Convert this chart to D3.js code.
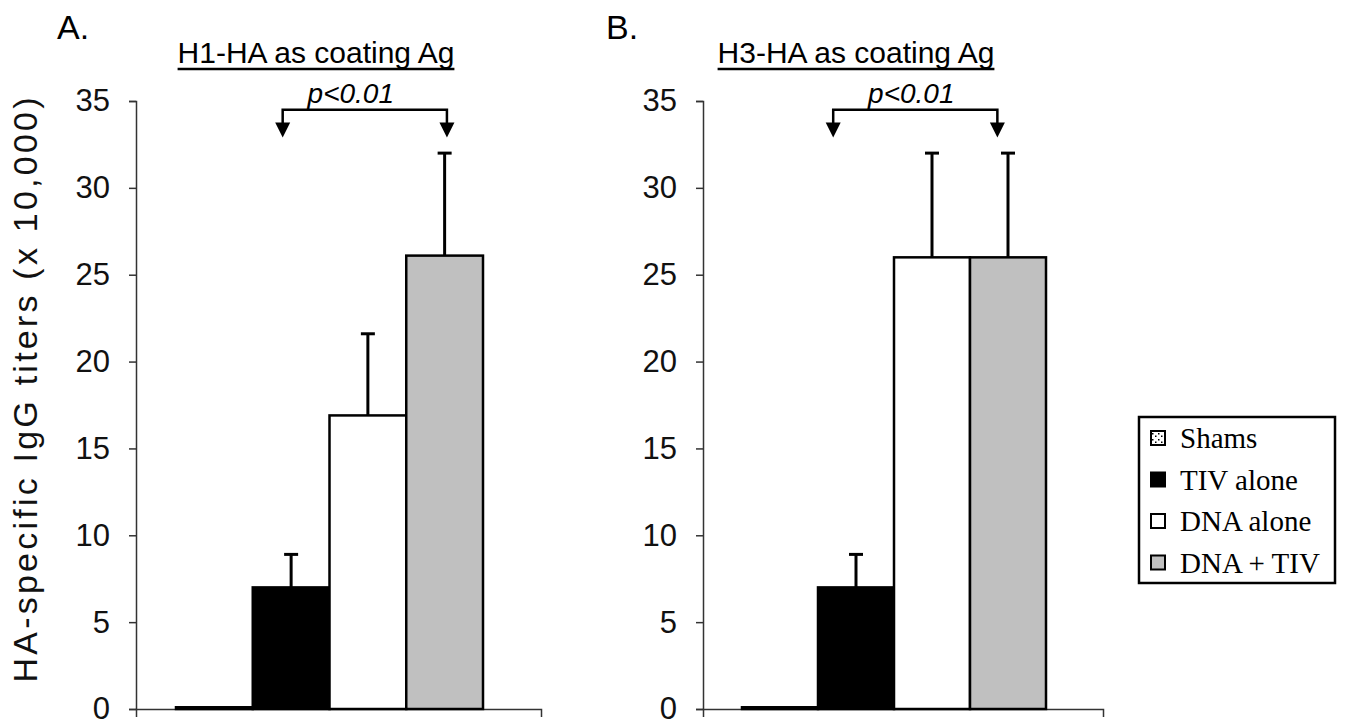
<!DOCTYPE html>
<html>
<head>
<meta charset="utf-8">
<script src="https://cdn.jsdelivr.net/npm/d3@7"></script>
<style>
  body { margin: 0; background: #fff; }
  svg { display: block; }
</style>
</head>
<body>
<script>
var width = 1347,
    height = 726;

// data (titers x 10,000)
var groups = ["Shams", "TIV alone", "DNA alone", "DNA + TIV"];
var groupFill = ["url(#dots)", "#000", "#fff", "#c0c0c0"];
var h1Mean = [0.1, 7.0, 16.9, 26.1];
var h1Upper = [0, 8.9, 21.6, 32.0];
var h3Mean = [0.1, 7.0, 26.0, 26.0];
var h3Upper = [0, 8.9, 32.0, 32.0];
var yTicks = [0, 5, 10, 15, 20, 25, 30, 35];

var panels = [
  {letter: "A.", title: "H1-HA as coating Ag", mean: h1Mean, upper: h1Upper,
   axisX: [136, 541], bars: [176, 483], letterX: 57, titleX: 316, pShift: -14,
   arrows: [[1, 0.39], [3, 0.53]]},
  {letter: "B.", title: "H3-HA as coating Ag", mean: h3Mean, upper: h3Upper,
   axisX: [703, 1103], bars: [742, 1046], letterX: 606, titleX: 856, pShift: -4,
   arrows: [[1, 0.2], [3, 0.36]]}
];

var svg = d3.select("body").append("svg")
    .attr("width", width)
    .attr("height", height);

// dotted fill for the shams bar
var pat = svg.append("defs").append("pattern")
    .attr("id", "dots")
    .attr("width", 6).attr("height", 6)
    .attr("patternUnits", "userSpaceOnUse");
pat.append("rect").attr("width", 6).attr("height", 6).attr("fill", "#fff");
pat.append("rect").attr("x", 1).attr("y", 1).attr("width", 1.5).attr("height", 1.5).attr("fill", "#000");
pat.append("rect").attr("x", 4).attr("y", 3.5).attr("width", 1.5).attr("height", 1.5).attr("fill", "#000");

var y = d3.scaleLinear().domain([0, 35]).range([709, 101]);

panels.forEach(function(p) {
  var g = svg.append("g");
  var x = d3.scaleBand().domain(groups).range(p.bars).padding(0);

  // y axis
  var ya = g.append("g")
      .attr("transform", "translate(" + p.axisX[0] + ",0)")
      .call(d3.axisLeft(y).tickValues(yTicks).tickSize(7).tickSizeOuter(7).tickPadding(19));
  ya.select(".domain").attr("stroke", "#333").attr("stroke-width", 1.5);
  ya.selectAll(".tick line").attr("stroke", "#333").attr("stroke-width", 1.5);
  ya.selectAll("text")
      .attr("font-family", "Liberation Sans, Arial, sans-serif")
      .attr("font-size", 31)
      .attr("fill", "#111");

  // x axis line with end tick
  var xs = d3.scaleLinear().range(p.axisX);
  var xa = g.append("g")
      .attr("transform", "translate(0," + y(0) + ")")
      .call(d3.axisBottom(xs).tickValues([]).tickSizeOuter(8));
  xa.select(".domain").attr("stroke", "#333").attr("stroke-width", 1.5);

  // bars
  g.selectAll(".bar")
    .data(groups)
    .enter().append("rect")
      .attr("class", "bar")
      .attr("x", d => x(d))
      .attr("width", x.bandwidth())
      .attr("y", (d, i) => y(p.mean[i]))
      .attr("height", (d, i) => y(0) - y(p.mean[i]))
      .attr("fill", (d, i) => groupFill[i])
      .attr("stroke", "#000")
      .attr("stroke-width", 2.5);

  // error bars (upper only)
  groups.forEach(function(d, i) {
    if (!p.upper[i]) return;
    var cx = x(d) + x.bandwidth() / 2;
    g.append("line")
        .attr("x1", cx).attr("x2", cx)
        .attr("y1", y(p.mean[i])).attr("y2", y(p.upper[i]))
        .attr("stroke", "#000").attr("stroke-width", 3);
    g.append("line")
        .attr("x1", cx - 7).attr("x2", cx + 7)
        .attr("y1", y(p.upper[i])).attr("y2", y(p.upper[i]))
        .attr("stroke", "#000").attr("stroke-width", 3);
  });

  // panel letter
  svg.append("text")
      .attr("x", p.letterX).attr("y", 39)
      .attr("font-family", "Liberation Sans, Arial, sans-serif")
      .attr("font-size", 34)
      .text(p.letter);

  // underlined title
  var title = svg.append("text")
      .attr("x", p.titleX).attr("y", 63)
      .attr("text-anchor", "middle")
      .attr("font-family", "Liberation Sans, Arial, sans-serif")
      .attr("font-size", 30)
      .text(p.title);
  var tw = title.node().getComputedTextLength();
  svg.append("line")
      .attr("x1", p.titleX - tw / 2).attr("x2", p.titleX + tw / 2)
      .attr("y1", 69).attr("y2", 69)
      .attr("stroke", "#000").attr("stroke-width", 2.5);

  // significance bracket
  var ax = p.arrows.map(a => x(groups[a[0]]) + x.bandwidth() * a[1]);
  var by = y(34.5), tipY = y(32.9);
  g.append("path")
      .attr("d", "M" + ax[0] + "," + (tipY - 14) + "V" + by + "H" + ax[1] + "V" + (tipY - 14))
      .attr("fill", "none").attr("stroke", "#000").attr("stroke-width", 2.5);
  ax.forEach(function(a) {
    g.append("path")
        .attr("d", "M" + (a - 7.5) + "," + (tipY - 15) + "L" + (a + 7.5) + "," + (tipY - 15) + "L" + a + "," + tipY + "Z")
        .attr("fill", "#000");
  });
  g.append("text")
      .attr("x", (ax[0] + ax[1]) / 2 + p.pShift).attr("y", by - 7)
      .attr("text-anchor", "middle")
      .attr("font-family", "Liberation Sans, Arial, sans-serif")
      .attr("font-style", "italic")
      .attr("font-size", 28)
      .text("p<0.01");
});

// y axis label
svg.append("text")
    .attr("transform", "translate(37,390) rotate(-90)")
    .attr("text-anchor", "middle")
    .attr("font-family", "Liberation Sans, Arial, sans-serif")
    .attr("font-size", 34)
    .attr("textLength", 585)
    .attr("lengthAdjust", "spacing")
    .attr("fill", "#111")
    .text("HA-specific IgG titers (x 10,000)");

// legend
var leg = svg.append("g").attr("transform", "translate(1139,417)");
leg.append("rect")
    .attr("width", 196).attr("height", 166)
    .attr("fill", "#fff").attr("stroke", "#000").attr("stroke-width", 2.5);
var row = leg.selectAll(".row")
    .data(groups)
  .enter().append("g")
    .attr("class", "row")
    .attr("transform", (d, i) => "translate(12," + (21 + i * 41.5) + ")");
row.append("rect")
    .attr("x", 0).attr("y", -7).attr("width", 14).attr("height", 14)
    .attr("fill", (d, i) => groupFill[i])
    .attr("stroke", "#000").attr("stroke-width", 2);
row.append("text")
    .attr("x", 29).attr("y", 10)
    .attr("font-family", "Liberation Serif, Times New Roman, serif")
    .attr("font-size", 29)
    .text(d => d);
</script>
</body>
</html>
